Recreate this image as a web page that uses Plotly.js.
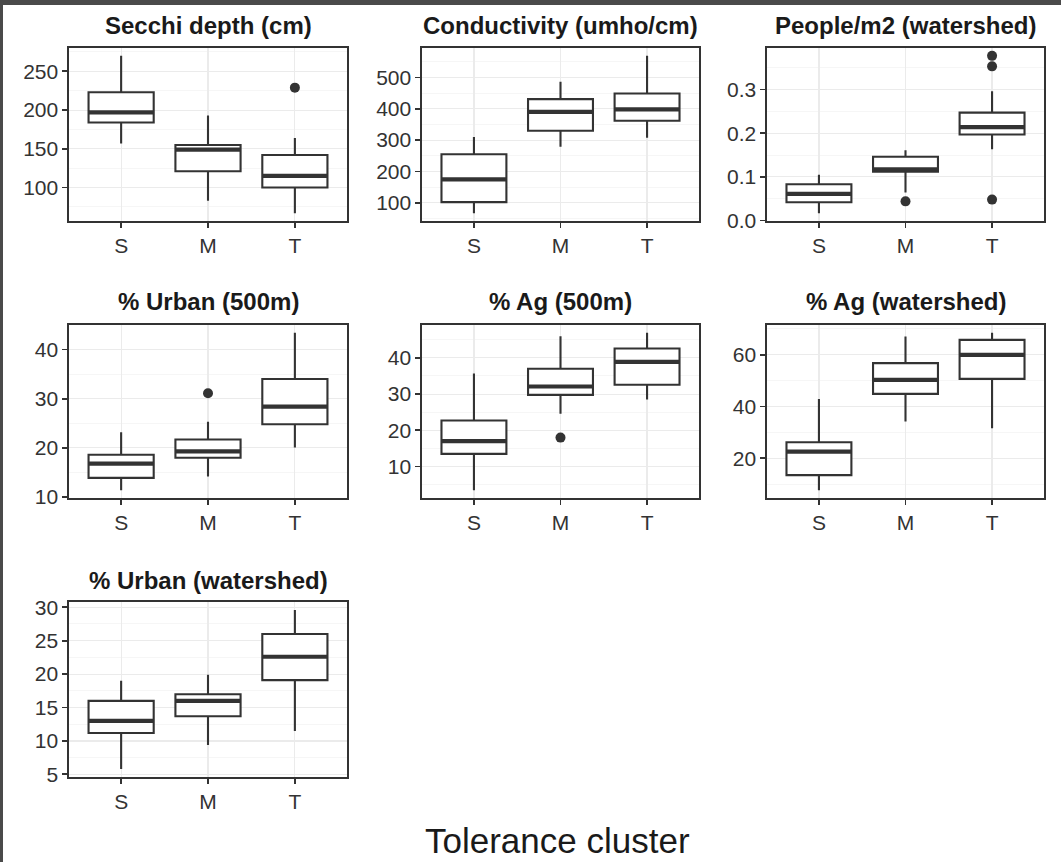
<!DOCTYPE html>
<html>
<head>
<meta charset="utf-8">
<script src="https://cdn.plot.ly/plotly-3.0.1.min.js"></script>
<style>
html,body{margin:0;padding:0;background:#fff;}
#chart{width:1061px;height:862px;}
</style>
</head>
<body>
<div id="chart"></div>
<script>
// Categories
const clusters = ['S', 'M', 'T'];

// Each stats array: per cluster [lower whisker, Q1, median, Q3, upper whisker]
const secchiStats = [[157, 184, 197, 223, 270], [83, 121, 149, 155, 193], [67, 100, 115, 142, 164]];
const secchiOut = [[], [], [229]];

const condStats = [[67, 102, 175, 255, 310], [279, 330, 390, 431, 486], [308, 362, 398, 449, 569]];
const condOut = [[], [], []];

const peopleStats = [[0.017, 0.042, 0.061, 0.083, 0.105], [0.064, 0.112, 0.117, 0.146, 0.161], [0.163, 0.197, 0.214, 0.247, 0.296]];
const peopleOut = [[], [0.044], [0.048, 0.353, 0.377]];

const urban500Stats = [[11.4, 13.9, 16.8, 18.6, 23.2], [14.2, 18.0, 19.3, 21.7, 25.3], [20.1, 24.8, 28.4, 34.0, 43.4]];
const urban500Out = [[], [31.1], []];

const ag500Stats = [[3.5, 13.5, 17.0, 22.7, 35.7], [24.6, 29.8, 32.1, 37.0, 46.0], [28.5, 32.6, 38.9, 42.6, 46.9]];
const ag500Out = [[], [18.0], []];

const agWsStats = [[7.7, 13.5, 22.6, 26.2, 42.9], [34.2, 44.9, 50.3, 56.8, 67.1], [31.6, 50.7, 60.0, 65.8, 68.5]];
const agWsOut = [[], [], []];

const urbanWsStats = [[5.8, 11.2, 13.0, 16.0, 19.0], [9.4, 13.7, 16.0, 17.0, 19.9], [11.5, 19.1, 22.6, 26.0, 29.6]];
const urbanWsOut = [[], [], []];

const panelTitles = ['Secchi depth (cm)', 'Conductivity (umho/cm)', 'People/m2 (watershed)',
  '% Urban (500m)', '% Ag (500m)', '% Ag (watershed)', '% Urban (watershed)'];
const panelDticks = [50, 100, 0.1, 10, 10, 20, 5];
const panelTickFormats = ['', '', '.1f', '', '', '', ''];
const xAxisTitle = 'Tolerance cluster';

const panels = [
  [secchiStats, secchiOut], [condStats, condOut], [peopleStats, peopleOut],
  [urban500Stats, urban500Out], [ag500Stats, ag500Out], [agWsStats, agWsOut],
  [urbanWsStats, urbanWsOut]
];

// Layout geometry (pixels)
const W = 1061, H = 862;
const colPx = [[69, 347], [422, 699], [767, 1044]];
const rowPx = [[48, 221], [325, 498], [602, 777]];
const titleY = [25, 301, 580];
const boxW = 0.75;
const ink = '#333333';
const fam = 'Liberation Sans, Arial, sans-serif';

const data = [];
const layout = {
  width: W, height: H,
  margin: {l: 0, r: 0, t: 0, b: 0},
  paper_bgcolor: '#ffffff',
  plot_bgcolor: '#ffffff',
  showlegend: false,
  font: {family: fam, color: ink},
  annotations: [],
  shapes: [
    {type: 'rect', xref: 'paper', yref: 'paper', x0: 0, x1: 3 / W, y0: 0, y1: 1, fillcolor: '#4a4a4a', line: {width: 0}, layer: 'above'},
    {type: 'rect', xref: 'paper', yref: 'paper', x0: 0, x1: 1, y0: 1 - 5 / H, y1: 1, fillcolor: '#4a4a4a', line: {width: 0}, layer: 'above'}
  ]
};

panels.forEach((p, i) => {
  const stats = p[0], outs = p[1];
  const row = Math.floor(i / 3), col = i % 3;
  const n = i + 1;
  const xa = 'x' + (n === 1 ? '' : n), ya = 'y' + (n === 1 ? '' : n);
  const xs = clusters.map((c, k) => k);

  data.push({
    type: 'box', xaxis: xa, yaxis: ya,
    x: xs,
    lowerfence: stats.map(s => s[0]),
    q1: stats.map(s => s[1]),
    median: stats.map(s => s[2]),
    q3: stats.map(s => s[3]),
    upperfence: stats.map(s => s[4]),
    width: boxW,
    whiskerwidth: 0,
    boxpoints: false,
    fillcolor: '#ffffff',
    line: {color: ink, width: 2.1},
    hoverinfo: 'skip'
  });

  // thick median lines
  const mx = [], my = [];
  stats.forEach((s, k) => { mx.push(k - boxW / 2, k + boxW / 2, null); my.push(s[2], s[2], null); });
  data.push({type: 'scatter', mode: 'lines', xaxis: xa, yaxis: ya, x: mx, y: my,
    line: {color: ink, width: 4.2}, hoverinfo: 'skip'});

  // outliers
  const ox = [], oy = [];
  outs.forEach((arr, k) => arr.forEach(v => { ox.push(k); oy.push(v); }));
  data.push({type: 'scatter', mode: 'markers', xaxis: xa, yaxis: ya, x: ox, y: oy,
    marker: {color: ink, size: 10}, hoverinfo: 'skip'});

  // y range with 5% expansion
  let lo = Infinity, hi = -Infinity;
  stats.forEach(s => { lo = Math.min(lo, s[0]); hi = Math.max(hi, s[4]); });
  outs.forEach(a => a.forEach(v => { lo = Math.min(lo, v); hi = Math.max(hi, v); }));
  const pad = (hi - lo) * 0.05;

  const xd = [colPx[col][0] / W, colPx[col][1] / W];
  const yd = [1 - rowPx[row][1] / H, 1 - rowPx[row][0] / H];

  const common = {
    showline: true, mirror: true, linecolor: ink, linewidth: 1.6,
    ticks: 'outside', ticklen: 5, tickwidth: 1.8, tickcolor: ink,
    showgrid: true, gridcolor: '#ebebeb', gridwidth: 1.2,
    zeroline: false, fixedrange: true,
    tickfont: {size: 21, color: ink, family: fam}
  };
  layout['xaxis' + (n === 1 ? '' : n)] = Object.assign({}, common, {
    domain: xd, anchor: ya, range: [-0.6, clusters.length - 0.4],
    tickmode: 'array', tickvals: xs, ticktext: clusters
  });
  layout['yaxis' + (n === 1 ? '' : n)] = Object.assign({}, common, {
    domain: yd, anchor: xa, range: [lo - pad, hi + pad],
    tick0: 0, dtick: panelDticks[i], tickformat: panelTickFormats[i],
    minor: {showgrid: true, gridcolor: '#f4f4f4', gridwidth: 0.8, dtick: panelDticks[i] / 2, tick0: 0}
  });

  layout.annotations.push({
    text: '<b>' + panelTitles[i] + '</b>', xref: 'paper', yref: 'paper',
    x: (xd[0] + xd[1]) / 2, y: 1 - titleY[row] / H, xanchor: 'center', yanchor: 'middle',
    showarrow: false, font: {size: 24, color: '#1a1a1a', family: fam}
  });
});

layout.annotations.push({
  text: xAxisTitle, xref: 'paper', yref: 'paper', x: 557 / W, y: 1 - 840 / H,
  xanchor: 'center', yanchor: 'middle', showarrow: false,
  font: {size: 35, color: '#1a1a1a', family: fam}
});

Plotly.newPlot('chart', data, layout, {staticPlot: true, displayModeBar: false});
</script>
</body>
</html>
